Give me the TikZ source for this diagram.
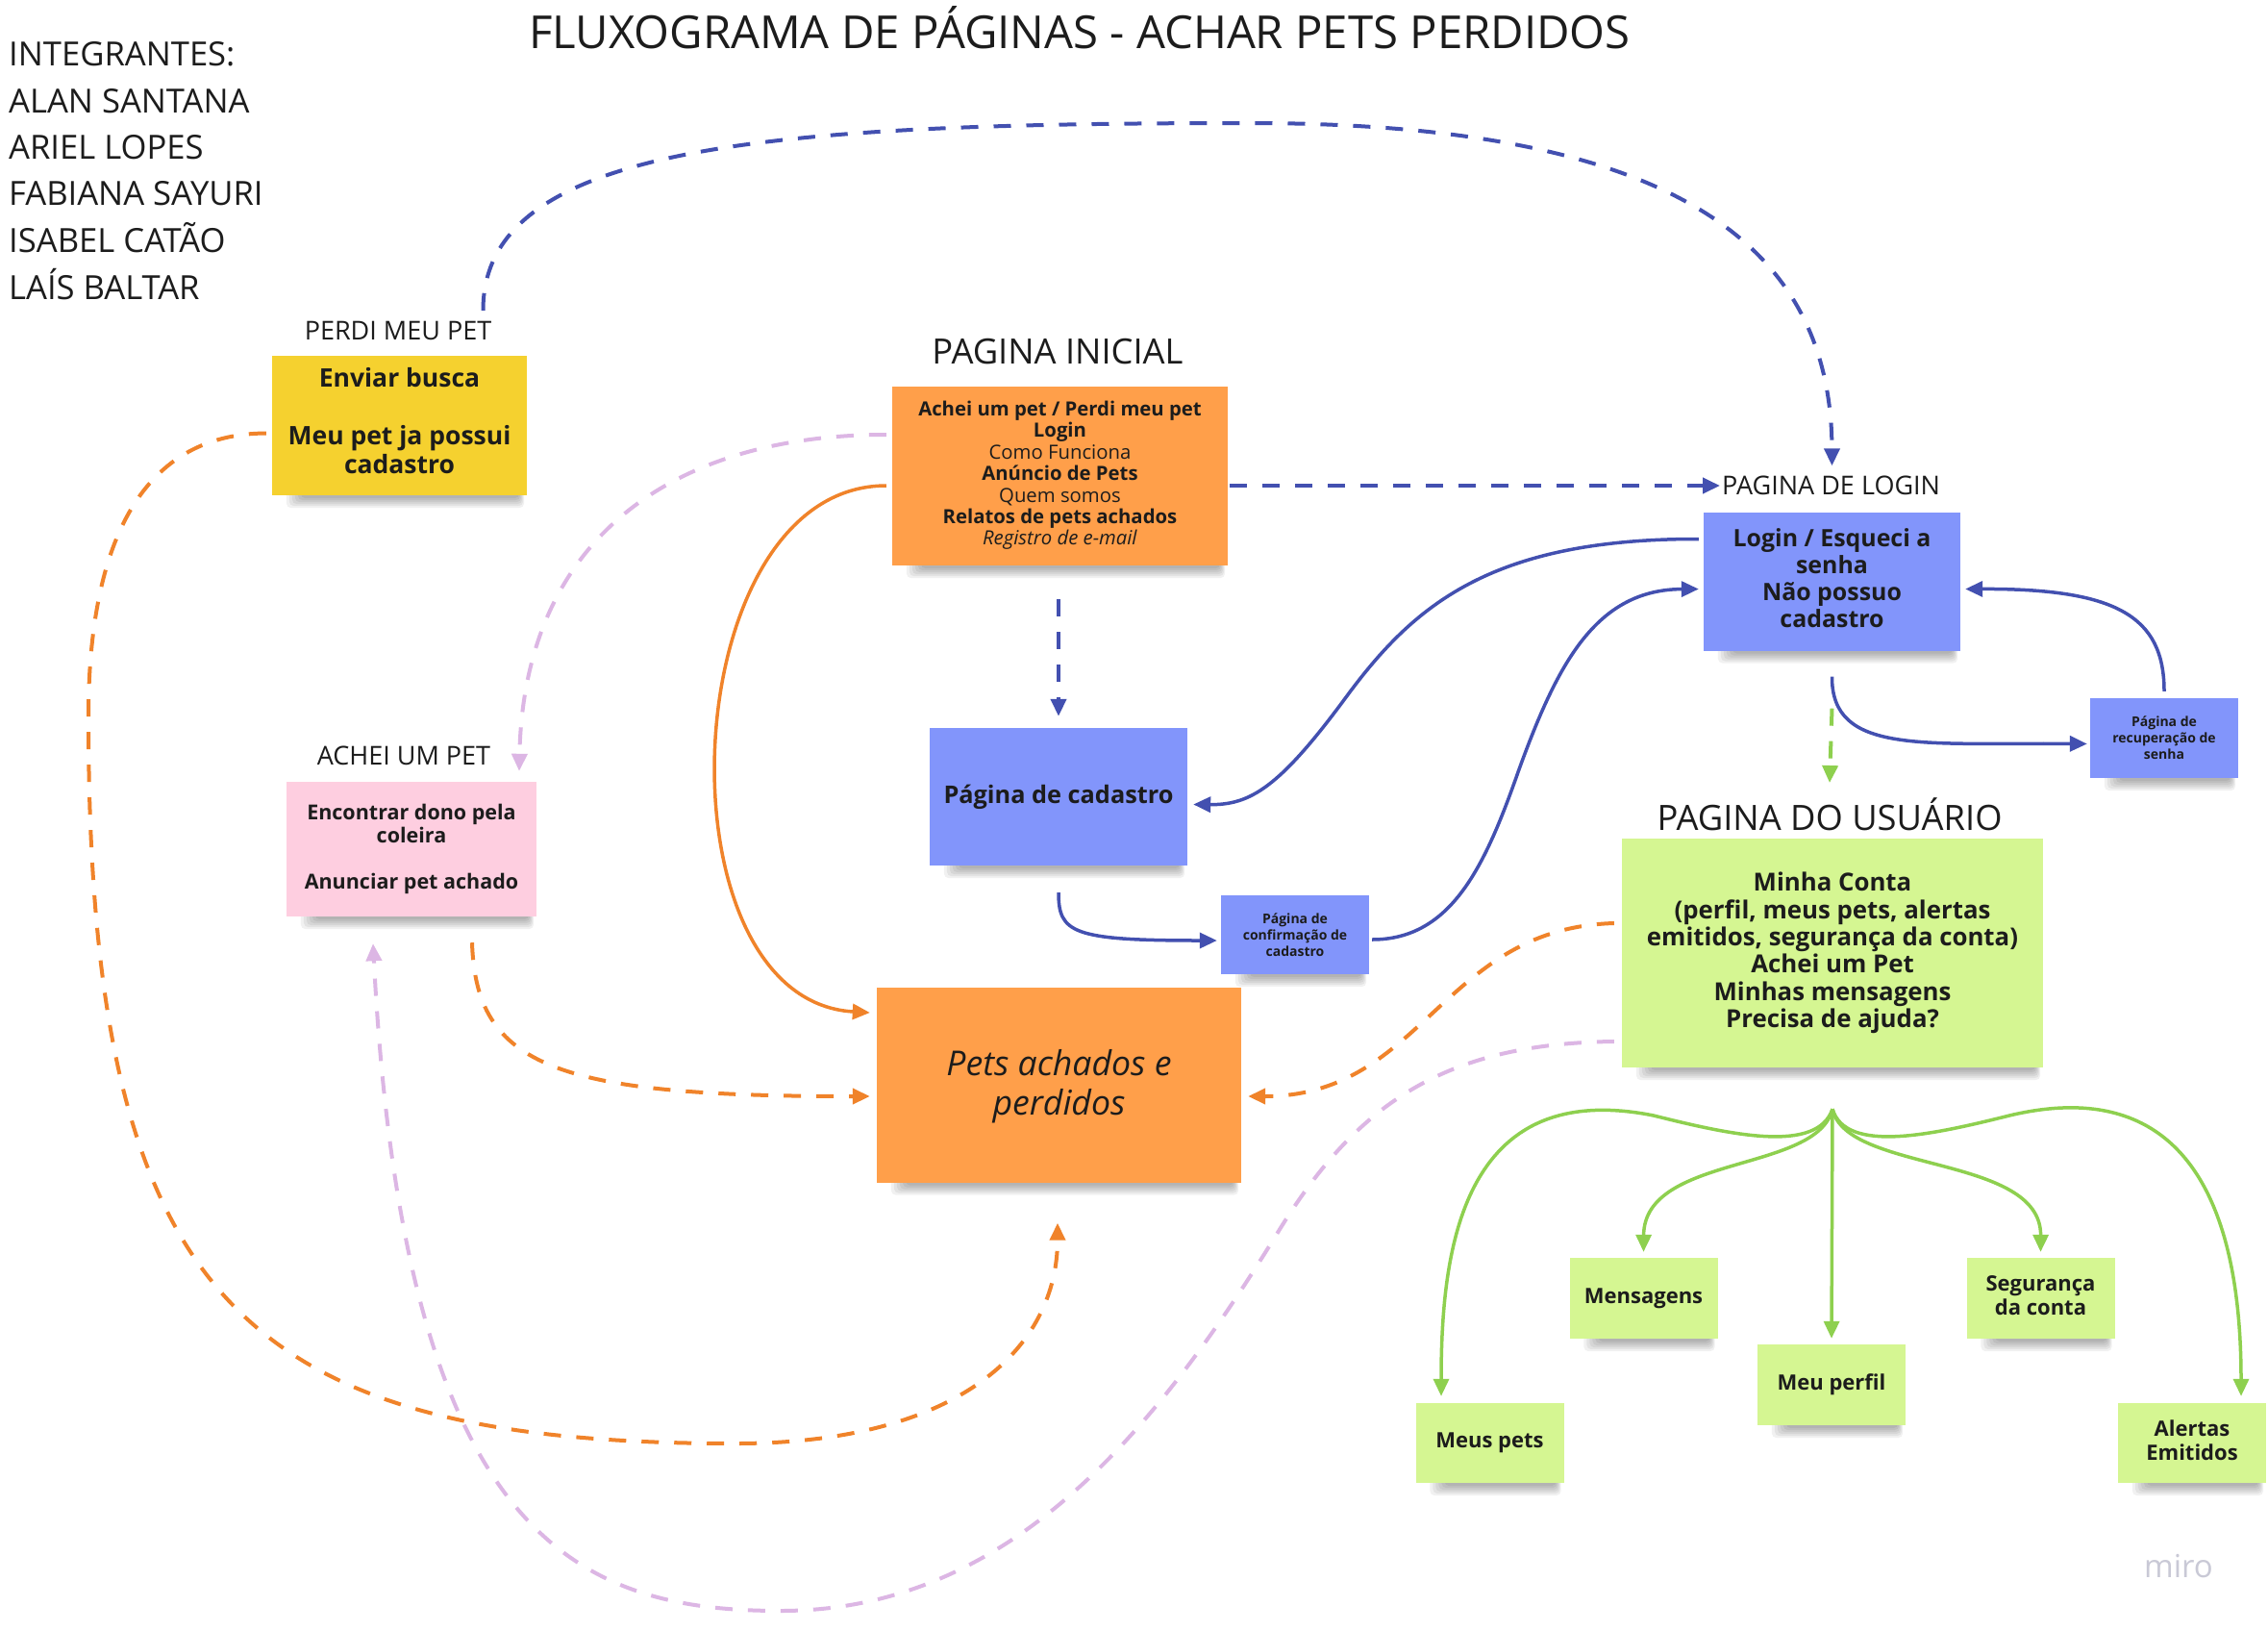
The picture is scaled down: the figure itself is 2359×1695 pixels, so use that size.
\documentclass[tikz,border=0pt]{standalone}
\usepackage{fontspec}
\setmainfont{Open Sans}
\usetikzlibrary{arrows.meta,calc}
\definecolor{stYellow}{HTML}{F5D12F}
\definecolor{stPink}{HTML}{FECEE0}
\definecolor{stOrange}{HTML}{FF9F4A}
\definecolor{stBlue}{HTML}{8295FB}
\definecolor{stGreen}{HTML}{D5F692}
\definecolor{lnBlue}{HTML}{4350B0}
\definecolor{lnOrange}{HTML}{F0832A}
\definecolor{lnLilac}{HTML}{DCB6E4}
\definecolor{lnGreen}{HTML}{8ED04F}
\definecolor{txt}{HTML}{1C1C1C}
\definecolor{miroGray}{HTML}{C9C9D6}
\pgfdeclarelayer{bg}
\pgfdeclarelayer{shadowlayer}
\pgfsetlayers{bg,shadowlayer,main}
\newcommand\stshadow[1]{%
  \begin{pgfonlayer}{shadowlayer}
  \foreach \k in {0,...,5}{%
    \fill[black,opacity=0.055,rounded corners=5pt]
      ($(#1.south west)+(30-3*\k,-10)$) rectangle ($(#1.south east)+(-8+\k,3+2*\k)$);
  }
  \end{pgfonlayer}}
\begin{document}
\begin{tikzpicture}[x=1pt,y=-1pt,
  sticky/.style={rectangle, inner sep=0pt, align=center, text=txt},
  yelbox/.style={sticky, fill=stYellow, minimum width=265pt, minimum height=145pt,
    font=\fontsize{26.5}{30}\selectfont\bfseries},
  pinkbox/.style={sticky, fill=stPink, minimum width=260pt, minimum height=140pt,
    font=\fontsize{21.5}{24}\selectfont\bfseries},
  orangebox/.style={sticky, fill=stOrange, minimum width=349pt, minimum height=186pt,
    font=\fontsize{20.3}{22.4}\selectfont},
  bluebox/.style={sticky, fill=stBlue, minimum width=267pt, minimum height=144pt,
    font=\fontsize{24.9}{28}\selectfont\bfseries},
  smallblue/.style={sticky, fill=stBlue, minimum width=154pt, minimum height=82pt,
    font=\fontsize{14}{17}\selectfont\bfseries},
  greenbox/.style={sticky, fill=stGreen, minimum width=438pt, minimum height=238pt,
    font=\fontsize{25.8}{28.4}\selectfont\bfseries},
  smallgreen/.style={sticky, fill=stGreen, minimum width=154pt, minimum height=84pt,
    font=\fontsize{22}{25}\selectfont\bfseries},
  petsbox/.style={sticky, fill=stOrange, minimum width=379pt, minimum height=203pt,
    font=\fontsize{35.6}{41}\selectfont\itshape},
  hdr/.style={anchor=base, inner sep=0pt, text=txt, font=\fontsize{36.3}{40}\selectfont},
  sublbl/.style={anchor=base, inner sep=0pt, text=txt, font=\fontsize{27}{32}\selectfont},
  member/.style={anchor=base west, inner sep=0pt, text=txt, font=\fontsize{34.6}{40}\selectfont},
  tip/.style={-{Triangle[length=18pt,width=16pt]}},
  bdash/.style={draw=lnBlue, line width=4pt, dash pattern=on 18pt off 16pt, tip},
  bsolid/.style={draw=lnBlue, line width=3.5pt, tip},
  odash/.style={draw=lnOrange, line width=4pt, dash pattern=on 18pt off 16pt, tip},
  osolid/.style={draw=lnOrange, line width=3.5pt, tip},
  ldash/.style={draw=lnLilac, line width=4pt, dash pattern=on 18pt off 16pt, tip},
  gdash/.style={draw=lnGreen, line width=4pt, dash pattern=on 18pt off 16pt, tip},
  gsolid/.style={draw=lnGreen, line width=3.5pt, tip}
]
\useasboundingbox (0,0) rectangle (2359,1695);
\begin{pgfonlayer}{bg}
  \fill[white] (0,0) rectangle (2359,1695);
\end{pgfonlayer}

% title and members
\node[anchor=base, inner sep=0pt, text=txt, font=\fontsize{47.3}{55}\selectfont] (title) at (1123,50) {FLUXOGRAMA DE PÁGINAS - ACHAR PETS PERDIDOS};
\node[member] (m0) at (9,68) {INTEGRANTES:};
\node[member] (m1) at (9,117) {ALAN SANTANA};
\node[member] (m2) at (9,165) {ARIEL LOPES};
\node[member] (m3) at (9,213) {FABIANA SAYURI};
\node[member] (m4) at (9,262) {ISABEL CATÃO};
\node[member] (m5) at (9,311) {LAÍS BALTAR};

% section labels
\node[sublbl] (perdiLbl) at (414,353) {PERDI MEU PET};
\node[sublbl] (acheiLbl) at (420,795) {ACHEI UM PET};
\node[hdr] (iniLbl) at (1100,378) {PAGINA INICIAL};
\node[sublbl, anchor=base west] (loginLbl) at (1791,514) {PAGINA DE LOGIN};
\node[hdr] (userLbl) at (1903,863) {PAGINA DO USUÁRIO};
\node[anchor=base, inner sep=0pt, text=miroGray, font=\fontsize{33}{40}\selectfont] (miro) at (2266,1640) {miro};

% sticky notes
\node[yelbox] (yel) at (415.5,442.5) {Enviar busca\\[30pt]Meu pet ja possui\\cadastro\\[-20pt]};
\node[pinkbox] (pink) at (428,883) {Encontrar dono pela\\coleira\\[24pt]Anunciar pet achado};
\node[orangebox] (ini) at (1102.5,495) {\textbf{Achei um pet / Perdi meu pet}\\\textbf{Login}\\Como Funciona\\\textbf{Anúncio de Pets}\\Quem somos\\\textbf{Relatos de pets achados}\\\textit{Registro de e-mail}\\[-16.4pt]};
\node[bluebox, minimum width=268pt, minimum height=143pt, font=\fontsize{25.3}{28}\selectfont\bfseries] (cad) at (1101,828.5) {Página de cadastro};
\node[smallblue] (conf) at (1347,972) {Página de\\confirmação de\\cadastro};
\node[bluebox] (login) at (1905.5,604.5) {Login / Esqueci a\\senha\\Não possuo\\cadastro\\[-22pt]};
\node[smallblue, minimum height=83pt] (recup) at (2251,767.5) {Página de\\recuperação de\\senha};
\node[greenbox] (user) at (1906,991) {Minha Conta\\(perfil, meus pets, alertas\\emitidos, segurança da conta)\\Achei um Pet\\Minhas mensagens\\Precisa de ajuda?};
\node[petsbox] (pets) at (1101.5,1128) {Pets achados e\\perdidos\\[-35pt]};
\node[smallgreen] (mens) at (1709.5,1350) {Mensagens};
\node[smallgreen] (seg) at (2122.5,1350) {Segurança\\da conta\\[-19pt]};
\node[smallgreen] (perfil) at (1905,1440) {Meu perfil};
\node[smallgreen, minimum height=83pt] (meuspets) at (1549.5,1500.5) {Meus pets};
\node[smallgreen, minimum height=83pt] (alertas) at (2280,1500.5) {Alertas\\Emitidos\\[-19pt]};

\foreach \n in {yel,pink,ini,cad,conf,login,recup,user,pets,mens,seg,perfil,meuspets,alertas}{\stshadow{\n}}

% blue connectors
\draw[bdash] ($(yel.north)+(87,-47)$) .. controls (502,150) and (800,128) .. (1300,128)
  .. controls (1750,128) and (1905,260) .. ($(login.north)+(0,-48)$);
\draw[bdash] ($(ini.east)+(2,10)$) -- ($(loginLbl.base west)+(-2,-9)$);
\draw[bdash] ($(ini.south)+(-1.5,35)$) -- ($(cad.north)+(0,-12)$);
\draw[bsolid] ($(login.west)+(-5,-44)$) .. controls (1550,560) and (1470,630) .. (1400,725)
  .. controls (1330,820) and (1300,837) .. ($(cad.east)+(6,8)$);
\draw[bsolid] ($(conf.east)+(3,5)$) .. controls (1510,977) and (1545,900) .. (1580,800)
  .. controls (1620,690) and (1660,613) .. ($(login.west)+(-5,8)$);
\draw[bsolid] ($(cad.south)+(0,28)$) .. controls (1101,970) and (1115,978) .. ($(conf.west)+(-4,6)$);
\draw[bsolid] ($(login.south)+(0,27)$) .. controls (1905,785) and (2000,772) .. ($(recup.west)+(-3,6)$);
\draw[bsolid] ($(recup.north)+(0,-7)$) .. controls (2251,640) and (2200,612) .. ($(login.east)+(5,8)$);

% green connectors
\draw[gdash] ($(login.south)+(0,60)$) -- ($(userLbl.north)+(0,-15)$);
\coordinate (hub) at ($(user.south)+(0,43)$);
\draw[gsolid] (hub) -- ($(perfil.north)+(0,-6)$);
\draw[gsolid] (hub) .. controls (1890,1200) and (1800,1180) .. (1720,1160)
  .. controls (1520,1120) and (1499,1300) .. ($(meuspets.north)+(-50.5,-7)$);
\draw[gsolid] (hub) .. controls (1920,1200) and (2010,1180) .. (2090,1160)
  .. controls (2300,1110) and (2331,1300) .. ($(alertas.north)+(51,-7)$);
\draw[gsolid] (hub) .. controls (1890,1220) and (1710,1200) .. ($(mens.north)+(0,-6)$);
\draw[gsolid] (hub) .. controls (1920,1220) and (2123,1200) .. ($(seg.north)+(0,-6)$);

% orange connectors
\draw[osolid] ($(ini.west)+(-6,10)$) .. controls (700,505) and (680,1040) .. ($(pets.west)+(-7,-75)$);
\draw[odash] ($(yel.west)+(-6,8)$) .. controls (150,451) and (92,560) .. (92,745)
  .. controls (92,1350) and (250,1501) .. (765,1501)
  .. controls (1000,1501) and (1100,1400) .. ($(pets.south)+(-1.5,42)$);
\draw[odash] ($(pink.south)+(63,27)$) .. controls (495,1110) and (580,1140) .. ($(pets.west)+(-7,12)$);
\draw[odash] ($(user.west)+(-8,-31)$) .. controls (1500,965) and (1480,1140) .. ($(pets.east)+(7,12)$);

% lilac connectors
\draw[ldash] ($(ini.west)+(-6,-43)$) .. controls (700,452) and (545,560) .. ($(pink.north)+(112,-11)$);
\draw[ldash] ($(user.west)+(-8,92)$) .. controls (1500,1085) and (1410,1150) .. (1330,1280)
  .. controls (1202,1488) and (1050,1675) .. (812,1675)
  .. controls (600,1675) and (420,1600) .. ($(pink.south)+(-40,28)$);
\end{tikzpicture}
\end{document}
